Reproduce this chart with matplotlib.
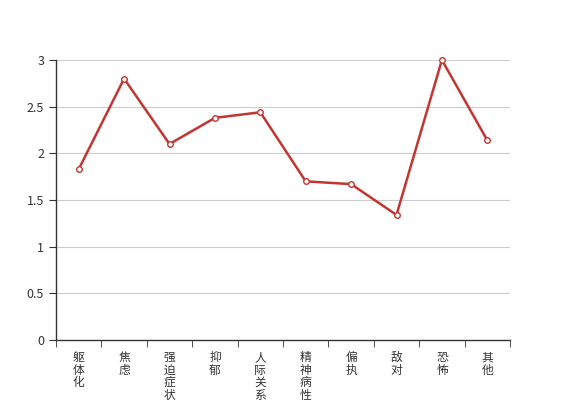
import matplotlib
matplotlib.use('Agg')
import matplotlib.pyplot as plt
import numpy as np

plt.rcParams['font.family'] = ['Noto Sans CJK SC', 'DejaVu Sans']

# ---- data ----
categories = ['躯体化', '焦虑', '强迫症状', '抑郁', '人际关系敏感',
              '精神病性', '偏执', '敌对', '恐怖', '其他']
values = [1.83, 2.80, 2.10, 2.38, 2.44, 1.70, 1.67, 1.34, 3.00, 2.14]
y_ticks = [0, 0.5, 1, 1.5, 2, 2.5, 3]
y_labels = ['0', '0.5', '1', '1.5', '2', '2.5', '3']

# ---- style ----
LINE_C, AXIS_C, GRID_C = '#c23531', '#333333', '#cccccc'

fig = plt.figure(figsize=(5.67, 4.0), dpi=100)
ax = fig.add_axes([56 / 567, 60 / 400, (510 - 56) / 567, 280 / 400])

x = np.arange(len(categories))
ax.plot(x, values, '-', color=LINE_C, linewidth=1.8, zorder=3, clip_on=False)
ax.plot(x, values, 'o', markerfacecolor='white', markeredgecolor=LINE_C,
        markersize=4, markeredgewidth=1, zorder=4, clip_on=False)

ax.set_xlim(-0.5, len(categories) - 0.5)
ax.set_ylim(0, 3)

ax.set_yticks(y_ticks)
ax.set_yticklabels(y_labels, fontsize=9, color=AXIS_C)
ax.yaxis.grid(True, color=GRID_C, linewidth=0.8)
ax.set_axisbelow(True)

# category labels at band centres, tick marks at band boundaries
ax.set_xticks(x)
ax.set_xticklabels(['\n'.join(c) for c in categories], fontsize=8.5,
                   color=AXIS_C, linespacing=0.95, va='top')
ax.tick_params(axis='x', which='major', length=0, pad=8)
ax.set_xticks(np.arange(len(categories) + 1) - 0.5, minor=True)
ax.tick_params(axis='x', which='minor', length=5, color=AXIS_C)
ax.tick_params(axis='y', length=5, color=AXIS_C)

for s in ['top', 'right']:
    ax.spines[s].set_visible(False)
for s in ['left', 'bottom']:
    ax.spines[s].set_color(AXIS_C)
    ax.spines[s].set_linewidth(1)

fig.savefig('out.png', dpi=100)
